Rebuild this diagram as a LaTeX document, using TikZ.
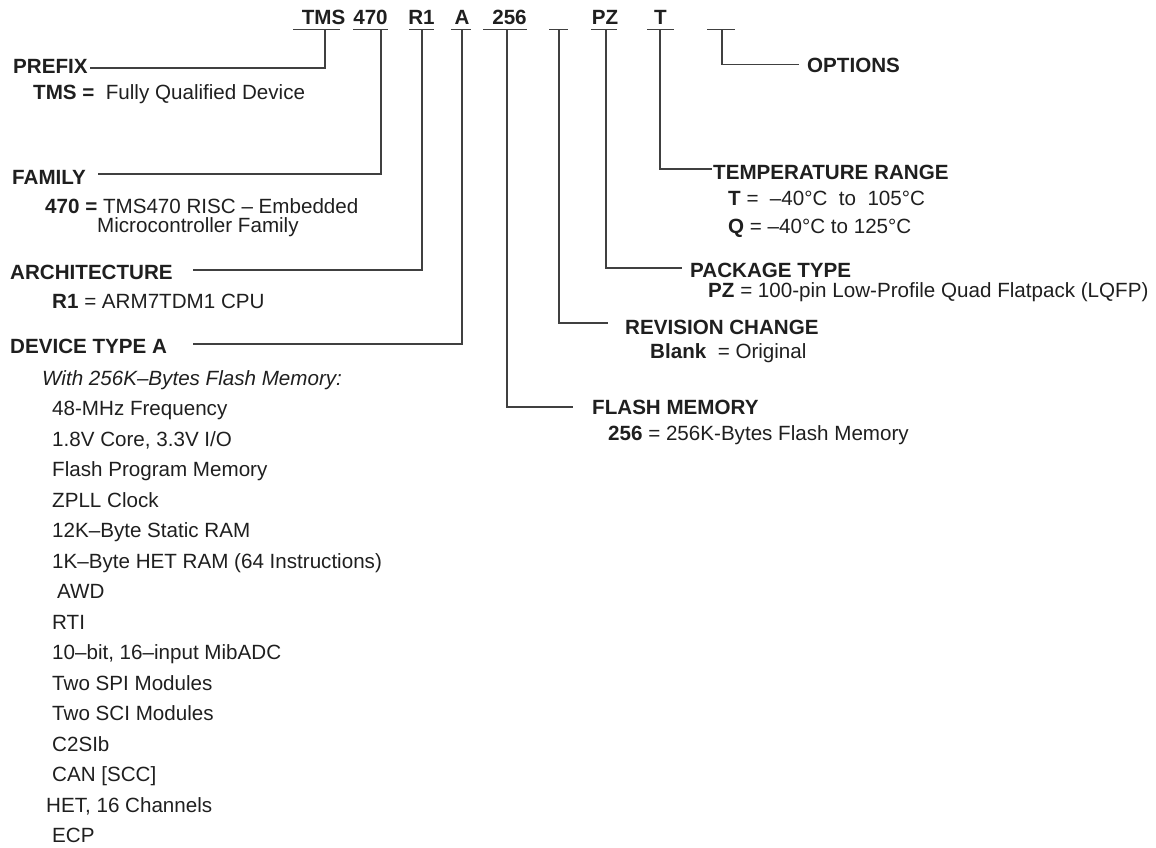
\documentclass[tikz,border=0pt]{standalone}
\usepackage{fontspec}
\setmainfont{Liberation Sans}
\usepackage{tikz}
\usetikzlibrary{positioning}

\tikzset{
  every node/.style={inner sep=0pt, anchor=base west, text=black!88,
    font=\fontsize{20.6}{24}\selectfont},
  code/.style={font=\fontsize{20.6}{24}\selectfont\bfseries, anchor=base},
  title/.style={font=\fontsize{20.6}{24}\selectfont\bfseries},
  lead/.style={draw=black!75, line width=1.1pt},
}

\begin{document}
\begin{tikzpicture}[x=1pt,y=-1pt]
\useasboundingbox (0,0) rectangle (1156,848);
% part number fields
\node[code] (tms) at (323.5,25) {TMS};
\node[code] (fam) at (370.5,25) {470};
\node[code] (r1) at (421.5,25) {R1};
\node[code] (a) at (462,25) {A};
\node[code] (mem) at (509.5,25) {256};
\node[code] (pz) at (605,25) {PZ};
\node[code] (t) at (660.5,25) {T};
\draw[lead] (293,29.3) -- (340,29.3);
\draw[lead] (353,29.3) -- (388,29.3);
\draw[lead] (409,29.3) -- (434,29.3);
\draw[lead] (451,29.3) -- (471,29.3);
\draw[lead] (483,29.3) -- (527,29.3);
\draw[lead] (549,29.3) -- (568,29.3);
\draw[lead] (591,29.3) -- (617,29.3);
\draw[lead] (647,29.3) -- (674,29.3);
\draw[lead] (707,29.3) -- (735,29.3);
\coordinate (uTMS) at (325,29.3);
\coordinate (u470) at (381,29.3);
\coordinate (uR1) at (422,29.3);
\coordinate (uA) at (462,29.3);
\coordinate (u256) at (507,29.3);
\coordinate (uRev) at (559,29.3);
\coordinate (uPZ) at (606,29.3);
\coordinate (uT) at (660,29.3);
\coordinate (uOpt) at (722,29.3);

% left column
\node[title] (prefix) at (13,74) {PREFIX};
\node (prefixdesc) at (33,100) {\textbf{TMS =}\ \ Fully Qualified Device};
\node[title] (family) at (12,184) {FAMILY};
\node (familydesc) at (45,213) {\textbf{470 =} TMS470 RISC – Embedded};
\node (familydescb) at (97,232) {Microcontroller Family};
\node[title] (arch) at (10,279) {ARCHITECTURE};
\node (archdesc) at (52,308) {\textbf{R1} = ARM7TDM1 CPU};
\node[title] (device) at (10,353) {DEVICE TYPE A};
\node[font=\fontsize{20.6}{24}\selectfont\itshape] (with) at (42,385) {With 256K–Bytes Flash Memory:};
\node (freq) at (52,415.5) {48-MHz Frequency};
\node (volt) at (52,446) {1.8V Core, 3.3V I/O};
\node (prog) at (52,476.5) {Flash Program Memory};
\node (zpll) at (52,507) {ZPLL Clock};
\node (sram) at (52,537.5) {12K–Byte Static RAM};
\node (hetram) at (52,568) {1K–Byte HET RAM (64 Instructions)};
\node (awd) at (57,598.5) {AWD};
\node (rti) at (52,629) {RTI};
\node (adc) at (52,659.5) {10–bit, 16–input MibADC};
\node (spi) at (52,690) {Two SPI Modules};
\node (sci) at (52,720.5) {Two SCI Modules};
\node (c2sib) at (52,751) {C2SIb};
\node (can) at (52,781.5) {CAN [SCC]};
\node (het) at (46,812) {HET, 16 Channels};
\node (ecp) at (52,842.5) {ECP};

% right column
\node[title] (options) at (807,73) {OPTIONS};
\node[title] (temp) at (713,179) {TEMPERATURE RANGE};
\node (tempT) at (728,205) {\textbf{T} =\ \ –40°C\ \ to\ \ 105°C};
\node (tempQ) at (728,233) {\textbf{Q} = –40°C to 125°C};
\node[title] (pkg) at (690,277) {PACKAGE TYPE};
\node (pkgdesc) at (708,297) {\textbf{PZ} = 100-pin Low-Profile Quad Flatpack (LQFP)};
\node[title] (rev) at (625,334) {REVISION CHANGE};
\node (revdesc) at (650,358) {\textbf{Blank}\ \ = Original};
\node[title] (flash) at (592,414) {FLASH MEMORY};
\node (flashdesc) at (608,440) {\textbf{256} = 256K-Bytes Flash Memory};

% leaders
\draw[lead] (uTMS) |- ([shift={(2pt,6pt)}]prefix.base east);
\draw[lead] (u470) |- ([shift={(12pt,10pt)}]family.base east);
\draw[lead] (uR1) |- ([shift={(20pt,9pt)}]arch.base east);
\draw[lead] (uA) |- ([shift={(26pt,9pt)}]device.base east);
\draw[lead] (u256) |- ([shift={(-19pt,7pt)}]flash.base west);
\draw[lead] (uRev) |- ([shift={(-17pt,11pt)}]rev.base west);
\draw[lead] (uPZ) |- ([shift={(-8pt,9pt)}]pkg.base west);
\draw[lead] (uT) |- ([shift={(-1pt,10pt)}]temp.base west);
\draw[lead] (uOpt) |- ([shift={(-8pt,8.5pt)}]options.base west);
\end{tikzpicture}
\end{document}
